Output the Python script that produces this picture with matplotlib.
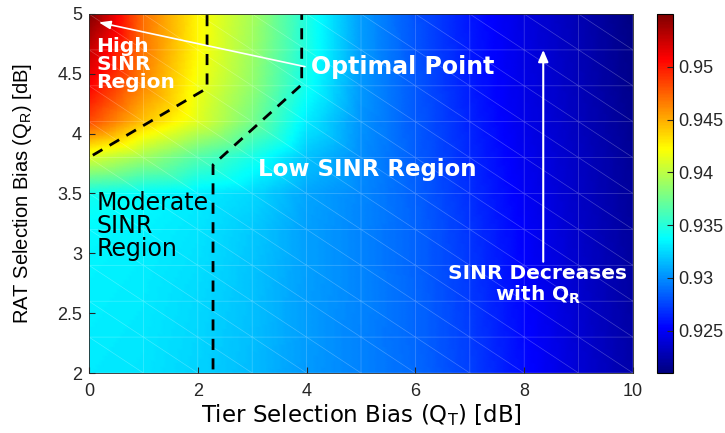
import numpy as np
import matplotlib
matplotlib.use("Agg")
import matplotlib.pyplot as plt
import matplotlib.tri as mtri
from matplotlib.colors import LinearSegmentedColormap

plt.rcParams['font.family'] = ['Liberation Sans', 'DejaVu Sans']

# grid of the surface
tier_bias = [0, 1, 2, 3, 4, 5, 6, 7, 8, 9, 10]
rat_bias = [2.0, 2.3, 2.6, 2.9, 3.2, 3.5, 3.8, 4.1, 4.4, 4.7, 5.0]

# normalised SINR, one row per RAT bias (bottom -> top)
sinr_rows = [
    [0.9331, 0.9329, 0.9323, 0.9315, 0.9304, 0.9296, 0.9288, 0.9274, 0.9256, 0.9239, 0.9224],
    [0.9332, 0.9330, 0.9324, 0.9316, 0.9305, 0.9296, 0.9287, 0.9273, 0.9255, 0.9238, 0.9223],
    [0.9333, 0.9331, 0.9325, 0.9317, 0.9305, 0.9297, 0.9287, 0.9272, 0.9254, 0.9237, 0.9222],
    [0.9334, 0.9332, 0.9327, 0.9318, 0.9306, 0.9297, 0.9286, 0.9271, 0.9253, 0.9236, 0.9221],
    [0.9336, 0.9334, 0.9329, 0.9320, 0.9306, 0.9297, 0.9286, 0.9270, 0.9252, 0.9235, 0.9220],
    [0.9343, 0.9337, 0.9332, 0.9325, 0.9308, 0.9298, 0.9285, 0.9268, 0.9250, 0.9234, 0.9219],
    [0.9410, 0.9390, 0.9365, 0.9345, 0.9318, 0.9300, 0.9284, 0.9266, 0.9248, 0.9233, 0.9218],
    [0.9483, 0.9442, 0.9412, 0.9377, 0.9332, 0.9302, 0.9283, 0.9264, 0.9246, 0.9231, 0.9216],
    [0.9508, 0.9462, 0.9418, 0.9386, 0.9342, 0.9304, 0.9282, 0.9262, 0.9245, 0.9230, 0.9214],
    [0.9527, 0.9468, 0.9424, 0.9390, 0.9347, 0.9305, 0.9281, 0.9261, 0.9244, 0.9229, 0.9213],
    [0.9550, 0.9470, 0.9425, 0.9393, 0.9348, 0.9305, 0.9280, 0.9260, 0.9243, 0.9228, 0.9211],
]

# region boundaries drawn as dashed lines
high_bound_x = [0.07, 2.17, 2.17]
high_bound_y = [3.82, 4.38, 5.0]
low_bound_x = [2.28, 2.28, 3.91, 3.91]
low_bound_y = [2.03, 3.74, 4.41, 5.0]

cbar_ticks = [0.925, 0.93, 0.935, 0.94, 0.945, 0.95]
cbar_labels = ['0.925', '0.93', '0.935', '0.94', '0.945', '0.95']

# matlab style jet
mjet = LinearSegmentedColormap.from_list('mjet', [
    (0.0, (0, 0, 0.5)), (0.125, (0, 0, 1)), (0.375, (0, 1, 1)),
    (0.625, (1, 1, 0)), (0.875, (1, 0, 0)), (1.0, (0.5, 0, 0))], N=256)

X, Y = np.meshgrid(tier_bias, rat_bias)
Z = np.array(sinr_rows)
nx = len(tier_bias)
ny = len(rat_bias)
tris = []
for j in range(ny - 1):
    for i in range(nx - 1):
        a = j * nx + i
        b = a + 1
        c = a + nx
        d = c + 1
        tris.append([a, b, c])
        tris.append([b, d, c])
triang = mtri.Triangulation(X.ravel(), Y.ravel(), tris)
# subdivide so the colour is interpolated in value space (like matlab 'interp')
refiner = mtri.UniformTriRefiner(triang)
fine_tri, fine_z = refiner.refine_field(
    Z.ravel(), triinterpolator=mtri.LinearTriInterpolator(triang, Z.ravel()),
    subdiv=4)

fig = plt.figure(figsize=(7.25, 4.33), dpi=100)
ax = fig.add_axes([89 / 725, 1 - 373 / 433, 544 / 725, 359 / 433])
tpc = ax.tripcolor(fine_tri, fine_z, shading='gouraud', cmap=mjet,
                   vmin=0.921, vmax=0.955)
ax.triplot(triang, color='white', lw=0.5, alpha=0.25)

ax.plot(high_bound_x, high_bound_y, 'k--', lw=2, dashes=(4, 3))
ax.plot(low_bound_x, low_bound_y, 'k--', lw=2, dashes=(4, 3))

bold = dict(family='DejaVu Sans', fontweight='bold', color='white')
ax.text(0.14, 4.58, 'High\nSINR\nRegion', fontsize=14.5, va='center',
        ha='left', linespacing=0.95, **bold)
ax.text(4.08, 4.56, 'Optimal Point', fontsize=17, va='center', ha='left',
        **bold)
ax.annotate('', xy=(0.18, 4.93), xytext=(3.97, 4.56),
            arrowprops=dict(arrowstyle='-|>,head_length=0.7,head_width=0.25',
                            color='white', lw=1.2, shrinkA=0, shrinkB=0))
ax.text(3.1, 3.70, 'Low SINR Region', fontsize=16.5, va='center', ha='left',
        **bold)
ax.text(0.14, 3.23, 'Moderate\nSINR\nRegion', family='DejaVu Sans',
        color='black', fontsize=17, va='center', ha='left', linespacing=0.94)
ax.text(8.25, 2.735, 'SINR Decreases\nwith Q$_\\mathregular{R}$', fontsize=14.5,
        va='center', ha='center', linespacing=1.0, **bold)
ax.annotate('', xy=(8.35, 4.7), xytext=(8.35, 2.93),
            arrowprops=dict(arrowstyle='-|>,head_length=0.7,head_width=0.3',
                            color='white', lw=1.5, shrinkA=0, shrinkB=0))

ax.set_xlim(0, 10)
ax.set_ylim(2, 5)
ax.set_xticks([0, 2, 4, 6, 8, 10])
ax.set_yticks([2, 2.5, 3, 3.5, 4, 4.5, 5])
ax.set_yticklabels(['2', '2.5', '3', '3.5', '4', '4.5', '5'])
ax.tick_params(direction='in', length=4, labelsize=13, colors='0.15')
ax.tick_params(axis='x', pad=7)
ax.tick_params(axis='y', pad=5)
for s in ax.spines.values():
    s.set_color('0.15')
    s.set_linewidth(0.6)
ax.set_xlabel('Tier Selection Bias (Q$_\\mathregular{T}$) [dB]',
              family='DejaVu Sans', fontsize=16.5, labelpad=2)
ax.set_ylabel('RAT Selection Bias (Q$_\\mathregular{R}$) [dB]',
              fontsize=14.5, labelpad=17)

cax = fig.add_axes([657 / 725, 1 - 373 / 433, 16 / 725, 359 / 433])
cb = fig.colorbar(tpc, cax=cax)
cb.set_ticks(cbar_ticks)
cb.set_ticklabels(cbar_labels)
cb.ax.tick_params(direction='in', length=4, labelsize=13, colors='0.15')
cb.outline.set_linewidth(0.8)

fig.savefig('out.png', dpi=100)
